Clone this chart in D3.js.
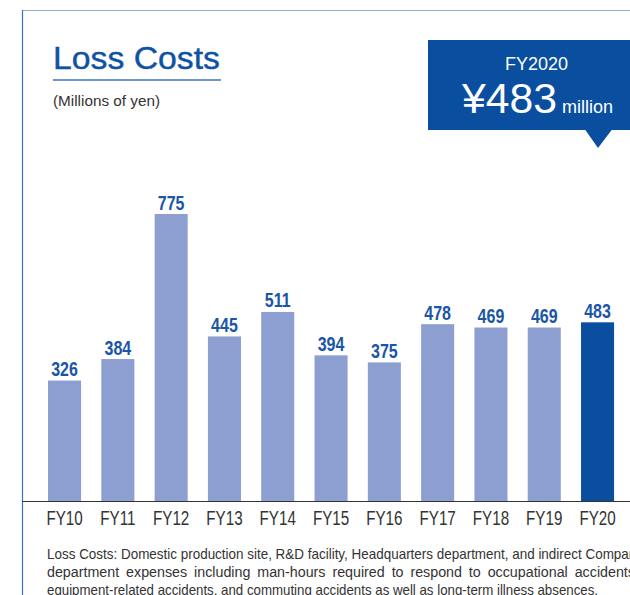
<!DOCTYPE html>
<html>
<head>
<meta charset="utf-8">
<script src="https://cdn.jsdelivr.net/npm/d3@7"></script>
<style>
  html, body { margin: 0; padding: 0; background: #fff; }
  svg { display: block; }
</style>
</head>
<body>
<div id="chart"></div>
<script>
const years = ['FY10', 'FY11', 'FY12', 'FY13', 'FY14', 'FY15', 'FY16', 'FY17', 'FY18', 'FY19', 'FY20'];
const lossCosts = [326, 384, 775, 445, 511, 394, 375, 478, 469, 469, 483];
const noteLines = [
  'Loss Costs: Domestic production site, R&D facility, Headquarters department, and indirect Company',
  'department expenses including man-hours required to respond to occupational accidents,',
  'equipment-related accidents, and commuting accidents as well as long-term illness absences.'
];
// right end of each footnote line in the reference (line 2 is justified)
const noteEnds = [643, 639, 598];
const noteSquash = [0.86, 1.02, 0.86];

const width = 630;
const height = 595;
const sans = '"Liberation Sans", Arial, Helvetica, sans-serif';

const svg = d3.select('#chart').append('svg')
  .attr('width', width)
  .attr('height', height);

// squeeze a text horizontally so it looks like a condensed face
function condense(sel, x, y, sx) {
  sel.attr('x', 0).attr('y', 0)
    .attr('transform', `translate(${x},${y}) scale(${sx},1)`);
}

// frame
svg.append('line')
  .attr('x1', 22.5).attr('x2', width).attr('y1', 10.5).attr('y2', 10.5)
  .attr('stroke', '#8fb0dc').attr('stroke-width', 1.2);
svg.append('line')
  .attr('x1', 22.5).attr('x2', 22.5).attr('y1', 10).attr('y2', height)
  .attr('stroke', '#3d6db5').attr('stroke-width', 1.2);

// title
svg.append('text')
  .attr('x', 53).attr('y', 68.5)
  .attr('font-family', sans)
  .attr('font-size', 32)
  .attr('textLength', 167)
  .attr('lengthAdjust', 'spacingAndGlyphs')
  .attr('fill', '#0f52a3')
  .attr('stroke', '#0f52a3')
  .attr('stroke-width', 0.4)
  .text('Loss Costs');
svg.append('line')
  .attr('x1', 53).attr('x2', 221).attr('y1', 80).attr('y2', 80)
  .attr('stroke', '#3a73c0').attr('stroke-width', 1.3);
svg.append('text')
  .attr('x', 53).attr('y', 106)
  .attr('font-family', sans)
  .attr('font-size', 14.5)
  .attr('textLength', 107)
  .attr('lengthAdjust', 'spacingAndGlyphs')
  .attr('fill', '#333')
  .text('(Millions of yen)');

// callout box
svg.append('rect')
  .attr('x', 428).attr('y', 40).attr('width', 202).attr('height', 90)
  .attr('fill', '#0a4f9f');
svg.append('path')
  .attr('d', 'M585,129.5 L612,129.5 L598,148 Z')
  .attr('fill', '#0a4f9f');
svg.append('text')
  .attr('x', 505).attr('y', 70)
  .attr('font-family', sans)
  .attr('font-size', 18)
  .attr('textLength', 63)
  .attr('lengthAdjust', 'spacingAndGlyphs')
  .attr('fill', '#fff')
  .text('FY2020');
svg.append('text')
  .attr('x', 462).attr('y', 113)
  .attr('font-family', sans)
  .attr('font-size', 42)
  .attr('textLength', 95)
  .attr('lengthAdjust', 'spacingAndGlyphs')
  .attr('fill', '#fff')
  .text('¥' + lossCosts[lossCosts.length - 1]);
svg.append('text')
  .attr('x', 562).attr('y', 113)
  .attr('font-family', sans)
  .attr('font-size', 17.5)
  .attr('textLength', 51)
  .attr('lengthAdjust', 'spacingAndGlyphs')
  .attr('fill', '#fff')
  .text('million');

// scales
const baseY = 501.5;
const x = d3.scaleBand()
  .domain(years)
  .range([37.9, 624.2])
  .paddingInner(0.38)
  .paddingOuter(0.19);
const y = d3.scaleLinear()
  .domain([0, 775])
  .range([baseY, 214]);

const data = years.map((yr, i) => ({ year: yr, value: lossCosts[i] }));

svg.append('g')
  .selectAll('rect')
  .data(data)
  .join('rect')
  .attr('x', d => x(d.year))
  .attr('y', d => y(d.value))
  .attr('width', x.bandwidth())
  .attr('height', d => baseY - y(d.value))
  .attr('fill', (d, i) => i === data.length - 1 ? '#0a4f9f' : '#8c9fd0');

svg.append('g')
  .selectAll('text')
  .data(data)
  .join('text')
  .attr('text-anchor', 'middle')
  .attr('font-family', sans)
  .attr('font-weight', 'bold')
  .attr('font-size', 19.5)
  .attr('fill', '#1a56a6')
  .text(d => d.value)
  .each(function (d) {
    condense(d3.select(this), x(d.year) + x.bandwidth() / 2, y(d.value) - 4.5, 0.82);
  });

// x axis
const xAxis = svg.append('g')
  .attr('transform', `translate(0,${baseY})`)
  .call(d3.axisBottom(x).tickSize(0).tickPadding(0));
xAxis.select('.domain').remove();
xAxis.append('line')
  .attr('x1', 22.5).attr('x2', width)
  .attr('stroke', '#333').attr('stroke-width', 1.2);
xAxis.selectAll('.tick text')
  .attr('dy', null)
  .attr('font-family', sans)
  .attr('font-size', 19.5)
  .attr('fill', '#333')
  .each(function () {
    condense(d3.select(this), 0, 23.5, 0.78);
  });

// footnote
const notes = svg.append('g');
noteLines.forEach((line, i) => {
  const sx = noteSquash[i];
  const target = (noteEnds[i] - 47) / sx;
  const t = notes.append('text')
    .attr('font-family', sans)
    .attr('font-size', 14)
    .attr('fill', '#333');
  condense(t, 47, 559 + i * 18, sx);
  if (i === 1) {
    // justified line: spread the words, keep glyph widths
    const words = line.split(' ');
    const widths = words.map(w => {
      const tmp = notes.append('text')
        .attr('font-family', sans).attr('font-size', 14).text(w);
      const wd = tmp.node().getComputedTextLength();
      tmp.remove();
      return wd;
    });
    const gap = (target - d3.sum(widths)) / (words.length - 1);
    let pos = 0;
    words.forEach((w, k) => {
      t.append('tspan').attr('x', pos).attr('y', 0).text(w);
      pos += widths[k] + gap;
    });
  } else {
    t.attr('textLength', target)
      .attr('lengthAdjust', 'spacingAndGlyphs')
      .text(line);
  }
});
</script>
</body>
</html>
